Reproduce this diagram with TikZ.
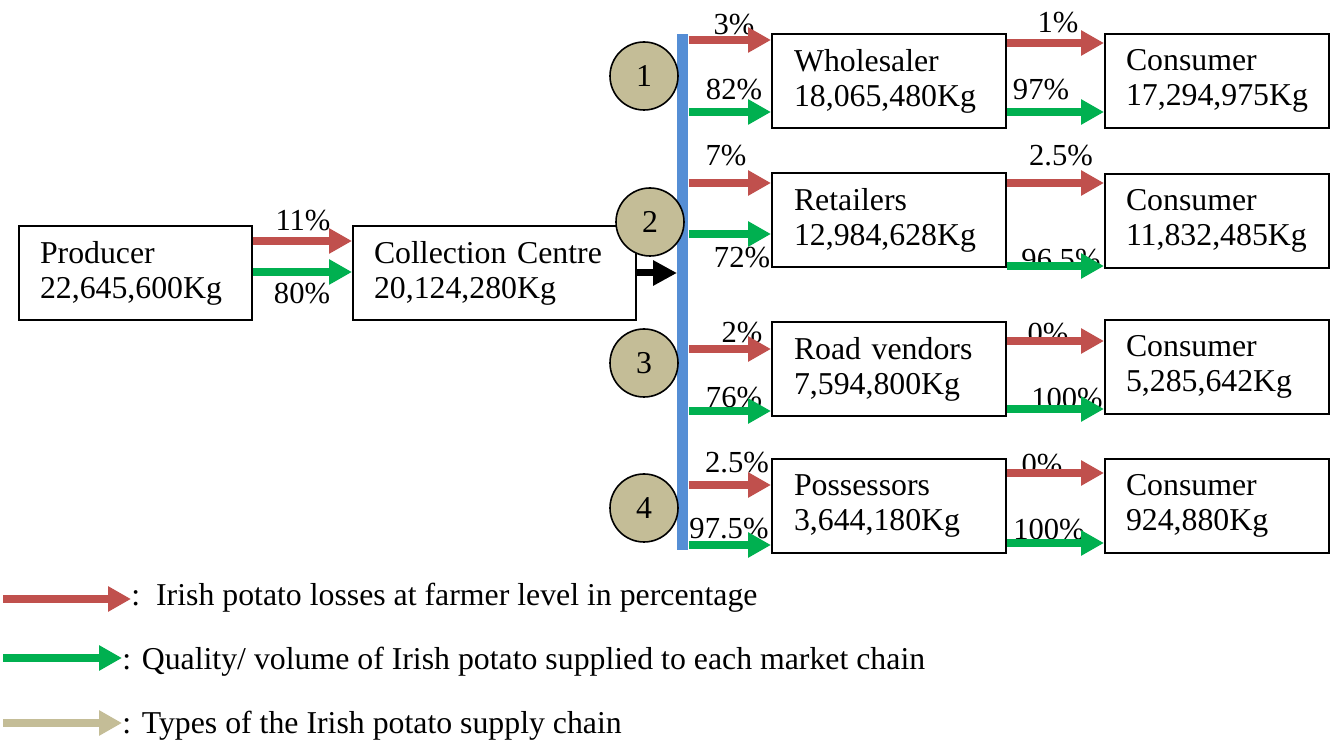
\documentclass[tikz,border=0pt]{standalone}
\usepackage{fontspec}
\setmainfont{Liberation Serif}
\usetikzlibrary{arrows.meta,calc}
\definecolor{lossred}{RGB}{192,80,77}
\definecolor{supgreen}{RGB}{0,176,80}
\definecolor{chaintan}{RGB}{196,189,151}
\definecolor{barblue}{RGB}{85,142,213}
\tikzset{
  box/.style={draw, line width=1pt, align=left, anchor=north west, inner xsep=10.5pt,
    minimum height=47pt, text width=#1},
  flow/.style={line width=3.75pt, -{Triangle[length=11.5pt,width=12pt]}},
  loss/.style={flow, lossred},
  supply/.style={flow, supgreen},
  chain/.style={flow, chaintan},
  pct/.style={anchor=base, inner sep=0pt, font=\fontsize{15.3pt}{17.5pt}\selectfont},
  num/.style={circle, draw, line width=0.8pt, fill=chaintan, minimum size=34pt, inner sep=0pt},
  legtext/.style={anchor=base west, inner sep=0pt}
}
\begin{document}
\begin{tikzpicture}[x=0.5pt,y=-0.5pt, font=\fontsize{15.9pt}{17.5pt}\selectfont]
\useasboundingbox (0,0) rectangle (1335,742);
% boxes
\node (prod) [box=95.5pt, minimum width=116.5pt] at (18,225) {Producer\\22,645,600Kg};
\node (coll) [box=120.5pt, minimum width=141.5pt] at (352,225) {Collection Centre\\20,124,280Kg};
\node (whol) [box=95pt, minimum width=117pt, inner xsep=11pt] at (771,33) {Wholesaler\\18,065,480Kg};
\node (reta) [box=95pt, minimum width=117pt, inner xsep=11pt] at (771,172) {Retailers\\12,984,628Kg};
\node (road) [box=95pt, minimum width=117pt, inner xsep=11pt] at (771,321) {Road vendors\\7,594,800Kg};
\node (poss) [box=95pt, minimum width=117pt, inner xsep=11pt] at (771,458) {Possessors\\3,644,180Kg};
\node (con1) [box=91pt, minimum width=112pt] at (1104,33) {Consumer\\17,294,975Kg};
\node (con2) [box=91pt, minimum width=112pt] at (1104,173) {Consumer\\11,832,485Kg};
\node (con3) [box=91pt, minimum width=112pt] at (1104,319) {Consumer\\5,285,642Kg};
\node (con4) [box=91pt, minimum width=112pt] at (1104,458) {Consumer\\924,880Kg};
% distribution bar
\node (bar) [fill=barblue, minimum width=5.5pt, minimum height=258pt, inner sep=0pt, anchor=north west] at (677,34) {};
% circles
\node (c1) [num] at (644,76) {1};
\node (c2) [num] at (650,222) {2};
\node (c3) [num] at (644,363) {3};
\node (c4) [num] at (644,508) {4};
% percentage labels
\node (p11) [pct] at (303,231) {11\%};
\node (p80) [pct] at (302,304) {80\%};
\node (pa1) [pct] at (734,35) {3\%};
\node (pa2) [pct] at (734,100) {82\%};
\node (pb1) [pct] at (726,166) {7\%};
\node (pb2) [pct] at (742,268) {72\%};
\node (pc1) [pct] at (742,343) {2\%};
\node (pc2) [pct] at (734,408) {76\%};
\node (pd1) [pct] at (737,473) {2.5\%};
\node (pd2) [pct] at (729,539) {97.5\%};
\node (qa1) [pct] at (1058,33) {1\%};
\node (qa2) [pct] at (1041,100) {97\%};
\node (qb1) [pct] at (1061,166) {2.5\%};
\node (qb2) [pct] at (1061,270) {96.5\%};
\node (qc1) [pct] at (1048,344) {0\%};
\node (qc2) [pct] at (1067,409) {100\%};
\node (qd1) [pct] at (1042,475) {0\%};
\node (qd2) [pct] at (1049,540) {100\%};
% producer -> collection
\draw[loss] (prod.east |- 0,241) -- (coll.west |- 0,241);
\draw[supply] (prod.east |- 0,272) -- (coll.west |- 0,272);
% collection -> bar
\draw[line width=3.5pt, -{Triangle[length=12pt,width=12pt]}] (coll.east |- 0,273) -- (bar.west |- 0,273);
% bar -> intermediaries
\draw[loss] (bar.east |- 0,40) -- (whol.west |- 0,40);
\draw[supply] (bar.east |- 0,112) -- (whol.west |- 0,112);
\draw[loss] (bar.east |- 0,183) -- (reta.west |- 0,183);
\draw[supply] (bar.east |- 0,234) -- (reta.west |- 0,234);
\draw[loss] (bar.east |- 0,349) -- (road.west |- 0,349);
\draw[supply] (bar.east |- 0,411) -- (road.west |- 0,411);
\draw[loss] (bar.east |- 0,485) -- (poss.west |- 0,485);
\draw[supply] (bar.east |- 0,545) -- (poss.west |- 0,545);
% intermediaries -> consumers
\draw[loss] (whol.east |- 0,43) -- (con1.west |- 0,43);
\draw[supply] (whol.east |- 0,112) -- (con1.west |- 0,112);
\draw[loss] (reta.east |- 0,183) -- (con2.west |- 0,183);
\draw[supply] (reta.east |- 0,266) -- (con2.west |- 0,266);
\draw[loss] (road.east |- 0,341) -- (con3.west |- 0,341);
\draw[supply] (road.east |- 0,409) -- (con3.west |- 0,409);
\draw[loss] (poss.east |- 0,473) -- (con4.west |- 0,473);
\draw[supply] (poss.east |- 0,543) -- (con4.west |- 0,543);
% legend
\node (l1) [legtext] at (131,606) {:\ \ Irish potato losses at farmer level in percentage};
\node (l2) [legtext] at (122,670) {: Quality/ volume of Irish potato supplied to each market chain};
\node (l3) [legtext] at (122,734) {: Types of the Irish potato supply chain};
\coordinate (s1) at (3,599);
\coordinate (s2) at (3,658);
\coordinate (s3) at (3,723);
\draw[loss] (s1) -- (l1.west |- s1);
\draw[supply] (s2) -- (l2.west |- s2);
\draw[chain] (s3) -- (l3.west |- s3);
\end{tikzpicture}
\end{document}
